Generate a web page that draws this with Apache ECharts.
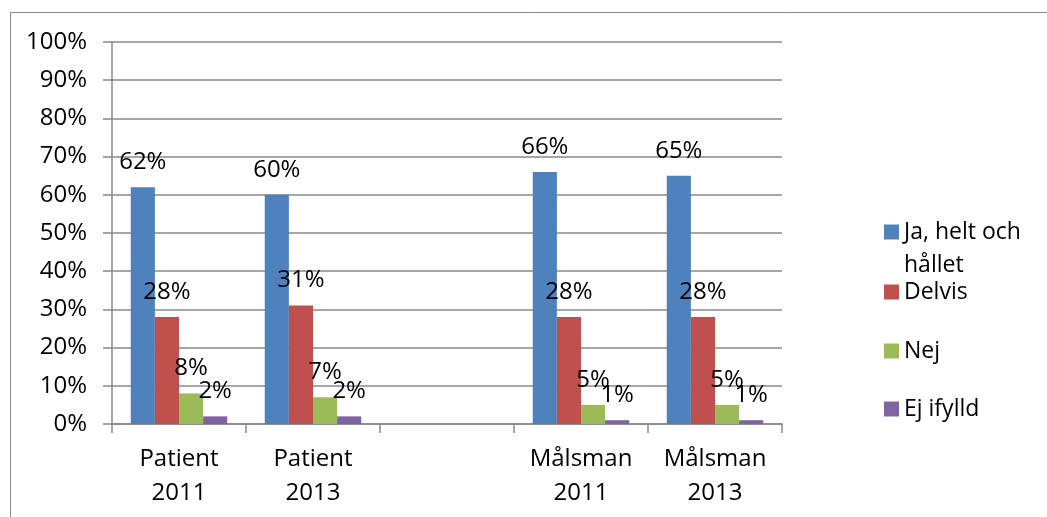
<!DOCTYPE html>
<html>
<head>
<meta charset="utf-8">
<script src="https://cdn.jsdelivr.net/npm/echarts@6/dist/echarts.min.js"></script>
<style>
  html, body { margin: 0; padding: 0; background: #fff; }
  #chart { width: 1047px; height: 517px; }
</style>
</head>
<body>
<div id="chart"></div>
<script>
// Survey answers per group and year (share of respondents)
const categories = ['Patient\n2011', 'Patient\n2013', '', 'Målsman\n2011', 'Målsman\n2013'];
const seriesNames = ['Ja, helt och hållet', 'Delvis', 'Nej', 'Ej ifylld'];
const jaHelt   = [0.62, 0.60, null, 0.66, 0.65];
const delvis   = [0.28, 0.31, null, 0.28, 0.28];
const nej      = [0.08, 0.07, null, 0.05, 0.05];
const ejIfylld = [0.02, 0.02, null, 0.01, 0.01];
const yTicks   = [0, 0.1, 0.2, 0.3, 0.4, 0.5, 0.6, 0.7, 0.8, 0.9, 1.0];

const colors = ['#4F81BD', '#C0504D', '#9BBB59', '#8064A2'];
const FONT = '"Open Sans", "Noto Sans", sans-serif';
const values = [jaHelt, delvis, nej, ejIfylld];

const chart = echarts.init(document.getElementById('chart'), null, { renderer: 'canvas' });

// one legend block per series so each entry sits at its own row
const legendCenters = [232, 292, 351, 409];
const legends = seriesNames.map((name, i) => {
  const first = i === 0;
  const lh = 33;
  const h = first ? lh * 3 : lh;
  return {
    data: [name],
    orient: 'vertical',
    left: 884,
    top: legendCenters[i] - h / 2,
    itemWidth: 15,
    itemHeight: 15,
    icon: 'rect',
    selectedMode: false,
    padding: 0,
    formatter: first ? () => '{s| }\nJa, helt och\nhållet' : (n) => n,
    textStyle: {
      fontFamily: FONT, fontSize: 23, color: '#000', lineHeight: lh,
      rich: { s: { fontSize: 23, lineHeight: lh } }
    }
  };
});

const option = {
  backgroundColor: '#fff',
  animation: false,
  color: colors,
  graphic: [{
    type: 'rect',
    shape: { x: 10.5, y: 12.5, width: 1040, height: 520 },
    style: { fill: 'none', stroke: '#8a8a8a', lineWidth: 1 },
    silent: true
  }],
  grid: { left: 112, right: 265, top: 42, bottom: 93, containLabel: false },
  legend: legends,
  xAxis: {
    type: 'category',
    data: categories,
    axisLine: { show: true, lineStyle: { color: '#888', width: 1.5 } },
    axisTick: { show: true, alignWithLabel: false, length: 9, lineStyle: { color: '#888', width: 1.5 } },
    axisLabel: {
      fontFamily: FONT, fontSize: 24, color: '#000', lineHeight: 34, margin: 18, interval: 0
    },
    splitLine: { show: false }
  },
  yAxis: {
    type: 'value',
    min: 0, max: 1, interval: 0.1,
    axisLine: { show: true, lineStyle: { color: '#888', width: 1.5 } },
    axisTick: { show: true, length: 9, lineStyle: { color: '#888', width: 1.5 } },
    axisLabel: {
      fontFamily: FONT, fontSize: 24, color: '#000', margin: 25,
      formatter: (v) => {
        const t = yTicks.find(x => Math.abs(x - v) < 1e-6);
        return Math.round((t !== undefined ? t : v) * 100) + '%';
      }
    },
    splitLine: { show: true, lineStyle: { color: '#888', width: 1.5 } }
  },
  series: seriesNames.map((name, i) => ({
    name,
    type: 'bar',
    data: values[i],
    barGap: '0%',
    barCategoryGap: '28%',
    itemStyle: { color: colors[i] },
    label: {
      show: true,
      position: 'top',
      distance: 11,
      fontFamily: FONT, fontSize: 24, color: '#000', lineHeight: 28,
      formatter: (p) => p.value == null ? '' : Math.round(p.value * 100) + '%'
    }
  }))
};

chart.setOption(option);
</script>
</body>
</html>
